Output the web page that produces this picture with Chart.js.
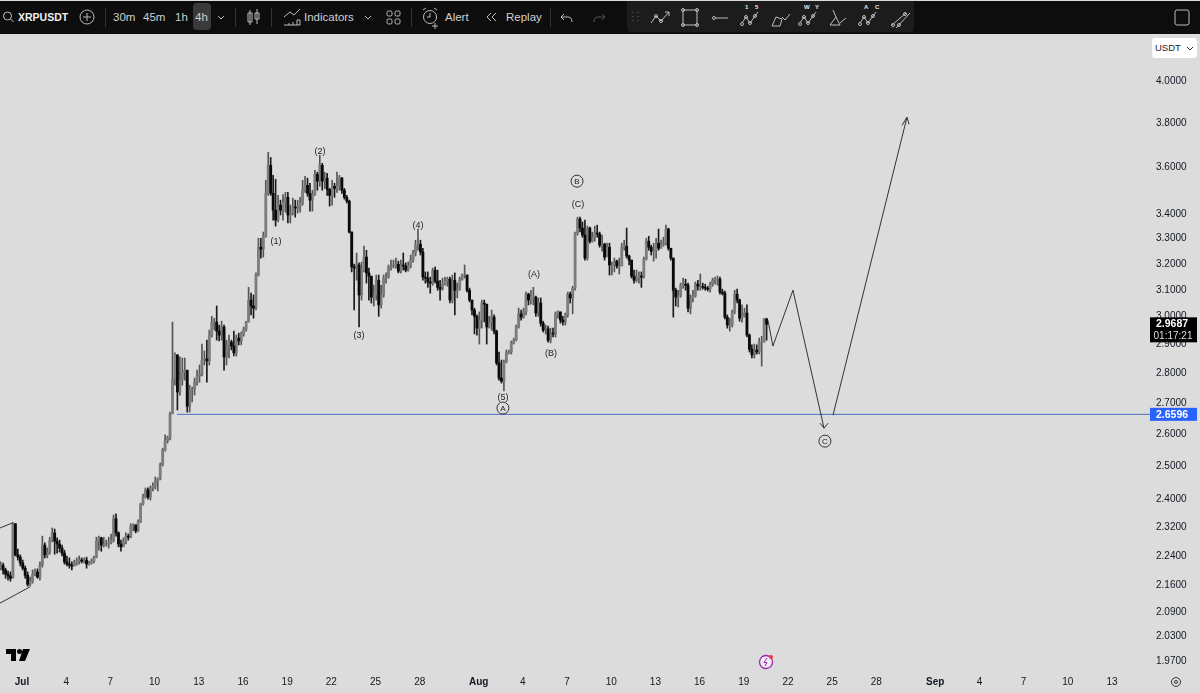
<!DOCTYPE html>
<html><head><meta charset="utf-8"><title>XRPUSDT</title>
<script src="https://cdn.jsdelivr.net/npm/chart.js@4"></script>
<style>
html,body{margin:0;padding:0;background:#dcdcdc;overflow:hidden}
#wrap{position:relative;width:1200px;height:693px;font-family:"Liberation Sans",Arial,sans-serif}
canvas{position:absolute;left:0;top:0}
#bar{position:absolute;left:0;top:1px;width:1200px;height:33px;background:#0d0d0d;color:#cfcfcf;font-size:11.5px}
#bar span{position:absolute;top:10px;white-space:nowrap;line-height:13px}
#bar i{position:absolute;top:7px;width:1px;height:19px;background:#333}
#bar svg{position:absolute;top:0;left:0}
#hi{position:absolute;left:193px;top:2px;width:18px;height:27px;background:#3a3a3a;border-radius:4px}
#panel{position:absolute;left:627px;top:0;width:287px;height:31px;background:#1c1c1c;border-radius:0 0 4px 4px}
#cur{position:absolute;left:1152px;top:38px;width:45px;height:20px;background:#fff;border-radius:3px;font-size:9.5px;line-height:20px;color:#222;padding-left:3px;box-sizing:border-box}
</style></head><body>
<div id="wrap">
<canvas id="c" width="1200" height="693"></canvas>
<div id="bar">
<div id="panel"></div><div id="hi"></div>
<span style="left:18px;font-weight:bold;font-size:10.5px;color:#f0f0f0">XRPUSDT</span>
<span style="left:113px">30m</span><span style="left:143px">45m</span><span style="left:175px">1h</span><span style="left:195px">4h</span>
<span style="left:304px">Indicators</span><span style="left:445px">Alert</span><span style="left:506px">Replay</span>
<i style="left:105px"></i><i style="left:235px"></i><i style="left:271px"></i><i style="left:411px"></i><i style="left:550px"></i>
<svg width="1200" height="33" fill="none" stroke="#bdbdbd" stroke-width="1">
<circle cx="7.5" cy="15" r="4"/><path d="M10.5 18l3 3"/>
<circle cx="87" cy="16" r="7"/><path d="M83 16h8M87 12v8"/>
<path d="M218 15l3 3 3-3M365 15l3 3 3-3"/>
<path d="M250 9v15M248 12h4v9h-4zM257 8v15M255 12h4v6h-4z"/>
<path d="M284 16l6-5 4 3 6-6M284 24h16v-5h-3v5M293 24v-3M289 24v-2"/>
<rect x="387" y="10" width="5" height="5" rx="1.5"/><rect x="395" y="10" width="5" height="5" rx="1.5"/><rect x="387" y="18" width="5" height="5" rx="1.5"/><rect x="395" y="18" width="5" height="5" rx="1.5"/>
<circle cx="430" cy="16" r="6.5"/><path d="M430 12v4h-3M423 9l3-2M437 9l-3-2M435 22v6M432 25h6"/>
<path d="M491 12l-4 4 4 4M496 12l-4 4 4 4"/>
<path d="M564 13l-3 3 3 3M561 16h7c3 0 4 2 4 5"/>
<path stroke="#555" d="M602 13l3 3-3 3M605 16h-7c-3 0-4 2-4 5"/>
<path stroke="#666" stroke-dasharray="1 3" d="M633 11v12M638 11v12"/>
<path d="M651 22l5-7 5 5 8-9M665 11h4v4"/><circle cx="656" cy="15" r="1.5"/><circle cx="661" cy="20" r="1.5"/>
<rect x="683" y="9" width="14" height="15"/><circle cx="683" cy="9" r="1.5"/><circle cx="697" cy="9" r="1.5"/><circle cx="683" cy="24" r="1.5"/><circle cx="697" cy="24" r="1.5"/>
<circle cx="714" cy="17" r="1.5"/><path d="M716 17h12"/>
<path d="M742 22l4-6 4 6 5-7 3-4"/><circle cx="746" cy="16" r="1.5"/><circle cx="750" cy="22" r="1.5"/><circle cx="742" cy="23" r="1.5"/><circle cx="755" cy="15" r="1.5"/>
<path d="M772 25l4-9 6 2-2 7zM782 16l3 3 5-6"/>
<path d="M800 22l4-6 4 6 5-7 3-4"/><circle cx="804" cy="16" r="1.5"/><circle cx="808" cy="22" r="1.5"/><circle cx="800" cy="23" r="1.5"/><circle cx="813" cy="15" r="1.5"/>
<path d="M830 24l6-8-3-7M830 24h10l-4-8M840 22l6-5"/>
<path d="M860 22l4-6 4 6 5-7 3-4"/><circle cx="864" cy="16" r="1.5"/><circle cx="868" cy="22" r="1.5"/><circle cx="860" cy="23" r="1.5"/><circle cx="873" cy="15" r="1.5"/>
<path d="M892 24l14-12M896 27l14-15"/><circle cx="893" cy="24" r="1.5"/><circle cx="905" cy="13" r="1.5"/><circle cx="899" cy="24" r="1.5"/>
<rect x="1175" y="9" width="14" height="15" rx="2"/>
</svg>
<svg width="1200" height="33" fill="#e8e8e8" stroke="none" font-size="6" font-family="Liberation Sans" font-weight="bold"><text x="745" y="8">1</text><text x="755" y="8">5</text><text x="804" y="8">W</text><text x="815" y="8">Y</text><text x="864" y="8">A</text><text x="875" y="8">C</text></svg>
</div>
<div id="cur">USDT<svg width="8" height="6" style="position:absolute;right:3px;top:8px" fill="none" stroke="#333"><path d="M1 1l3 3 3-3"/></svg></div>
<svg width="1200" height="693" style="position:absolute;left:0;top:0;pointer-events:none">
<g fill="#000"><path d="M6 649h10v12h-5v-7H6z"/><circle cx="19.5" cy="651.5" r="2.5"/><path d="M23 649h7l-5 12h-6z"/></g>
<circle cx="766" cy="662" r="6.5" fill="#f3f0f5" stroke="#9c27b0" stroke-width="1.3"/><path d="M767 658l-3 4.5h3l-2 3.5" fill="none" stroke="#9c27b0"/><circle cx="771" cy="657" r="2" fill="#f23645"/>
<g fill="none" stroke="#333"><circle cx="1176" cy="682" r="4.5"/><circle cx="1176" cy="682" r="1.5"/></g>
</svg>
</div>
<script>
const firstOpen = 2.205;
const candleClose = [
2.212,2.199,2.188,2.183,2.177,2.327,2.240,2.234,2.218,2.204,2.185,2.161,2.169,2.188,2.194,2.180,2.212,2.267,2.240,2.248,
2.281,2.301,2.278,2.270,2.259,2.245,2.221,2.215,2.212,2.210,2.218,2.223,2.226,2.223,2.226,2.215,2.218,2.223,2.234,2.278,
2.287,2.267,2.270,2.270,2.273,2.281,2.341,2.301,2.270,2.262,2.278,2.292,2.289,2.321,2.324,2.307,2.332,2.383,2.404,2.425,
2.404,2.431,2.437,2.452,2.458,2.500,2.546,2.575,2.584,2.661,2.776,2.860,2.733,2.773,2.800,2.807,2.686,2.740,2.743,2.766,
2.787,2.793,2.842,2.846,2.839,2.930,2.977,2.977,2.944,2.930,2.959,2.853,2.895,2.905,2.891,2.867,2.919,2.909,2.934,2.952,
2.977,3.058,3.036,3.028,3.153,3.262,3.254,3.306,3.484,3.605,3.484,3.413,3.372,3.434,3.413,3.447,3.467,3.393,3.401,3.426,
3.422,3.430,3.443,3.497,3.518,3.484,3.455,3.479,3.566,3.536,3.605,3.536,3.549,3.501,3.475,3.514,3.505,3.514,3.549,3.497,
3.467,3.451,3.323,3.184,3.180,3.192,3.077,3.172,3.223,3.161,3.149,3.069,3.077,3.133,3.040,3.077,3.141,3.145,3.184,3.188,
3.192,3.195,3.168,3.192,3.188,3.172,3.188,3.211,3.239,3.270,3.274,3.243,3.145,3.141,3.126,3.122,3.172,3.129,3.106,3.099,
3.118,3.129,3.137,3.058,3.133,3.095,3.099,3.137,3.153,3.153,3.095,3.058,3.021,2.998,2.955,2.984,3.047,3.043,2.959,2.977,
2.995,2.944,2.832,2.780,2.770,2.835,2.867,2.870,2.902,2.912,2.959,3.007,2.995,3.014,3.080,3.058,3.069,3.069,3.010,3.047,
2.973,2.948,2.952,2.912,2.937,2.934,3.007,3.014,2.984,2.977,3.003,3.080,3.066,3.103,3.319,3.376,3.339,3.311,3.219,3.339,
3.286,3.302,3.319,3.315,3.270,3.274,3.223,3.262,3.192,3.192,3.207,3.188,3.188,3.262,3.266,3.227,3.211,3.149,3.133,3.145,
3.149,3.145,3.215,3.286,3.262,3.246,3.250,3.278,3.258,3.274,3.278,3.335,3.258,3.219,3.095,3.069,3.077,3.114,3.118,3.114,
3.028,3.066,3.073,3.118,3.110,3.110,3.106,3.103,3.099,3.118,3.133,3.137,3.137,3.088,3.084,2.995,2.966,2.966,3.014,3.080,
3.058,2.991,2.998,3.010,2.930,2.880,2.860,2.877,2.870,2.905,2.905,2.988,2.9687];
const candleHigh = [
2.221,2.218,2.204,2.196,2.194,2.330,2.327,2.256,2.240,2.226,2.210,2.194,2.180,2.199,2.202,2.202,2.221,2.292,2.273,2.259,
2.289,2.315,2.312,2.287,2.281,2.267,2.253,2.237,2.232,2.221,2.226,2.232,2.237,2.232,2.232,2.234,2.223,2.229,2.237,2.289,
2.292,2.289,2.289,2.281,2.289,2.298,2.352,2.355,2.304,2.281,2.287,2.301,2.298,2.327,2.327,2.321,2.338,2.386,2.413,2.431,
2.431,2.437,2.446,2.464,2.461,2.506,2.552,2.594,2.590,2.667,2.977,2.867,2.860,2.853,2.849,2.849,2.807,2.756,2.750,2.780,
2.807,2.825,2.898,2.874,2.912,2.948,2.998,2.991,3.036,2.966,2.980,2.966,2.912,2.930,2.912,2.944,2.930,2.937,2.941,2.959,
2.980,3.106,3.084,3.077,3.161,3.298,3.298,3.323,3.540,3.663,3.640,3.561,3.544,3.475,3.455,3.479,3.488,3.488,3.434,3.463,
3.455,3.455,3.467,3.540,3.557,3.549,3.527,3.497,3.583,3.575,3.650,3.614,3.575,3.570,3.505,3.540,3.527,3.575,3.561,3.553,
3.505,3.475,3.455,3.323,3.195,3.239,3.200,3.203,3.266,3.250,3.180,3.145,3.114,3.153,3.153,3.114,3.153,3.161,3.192,3.211,
3.211,3.219,3.207,3.211,3.239,3.200,3.203,3.231,3.250,3.290,3.335,3.290,3.258,3.165,3.165,3.145,3.180,3.184,3.172,3.133,
3.141,3.145,3.145,3.145,3.153,3.161,3.122,3.145,3.157,3.192,3.153,3.103,3.058,3.028,3.003,3.014,3.058,3.058,3.021,2.998,
3.021,3.003,2.948,2.870,2.842,2.842,2.877,2.877,2.909,2.919,2.966,3.028,3.021,3.028,3.088,3.084,3.095,3.106,3.073,3.066,
3.066,2.980,2.966,2.962,2.955,2.955,3.014,3.018,3.014,2.998,3.010,3.088,3.088,3.110,3.323,3.384,3.384,3.364,3.372,3.347,
3.343,3.323,3.347,3.351,3.323,3.311,3.278,3.278,3.278,3.203,3.219,3.211,3.219,3.278,3.290,3.339,3.231,3.211,3.172,3.172,
3.165,3.165,3.223,3.298,3.306,3.270,3.278,3.298,3.335,3.290,3.302,3.351,3.339,3.258,3.219,3.103,3.095,3.122,3.141,3.137,
3.122,3.077,3.095,3.126,3.133,3.157,3.122,3.118,3.110,3.126,3.141,3.145,3.149,3.145,3.099,3.092,3.003,2.991,3.021,3.095,
3.099,3.062,3.040,3.028,3.040,2.934,2.895,2.898,2.895,2.919,2.926,2.991,2.991];
const candleLow = [
2.199,2.188,2.177,2.172,2.169,2.188,2.237,2.226,2.210,2.199,2.177,2.156,2.156,2.164,2.183,2.177,2.172,2.207,2.232,2.232,
2.242,2.276,2.242,2.245,2.248,2.237,2.215,2.210,2.204,2.199,2.210,2.212,2.215,2.218,2.218,2.204,2.212,2.215,2.218,2.232,
2.253,2.250,2.262,2.264,2.259,2.270,2.276,2.292,2.262,2.250,2.264,2.270,2.281,2.287,2.307,2.301,2.304,2.330,2.380,2.401,
2.398,2.395,2.422,2.428,2.422,2.455,2.497,2.543,2.568,2.578,2.664,2.756,2.674,2.723,2.756,2.773,2.667,2.667,2.700,2.723,
2.756,2.766,2.787,2.825,2.766,2.825,2.923,2.948,2.912,2.909,2.912,2.807,2.825,2.849,2.877,2.856,2.856,2.895,2.895,2.926,
2.944,2.977,3.003,2.991,3.021,3.149,3.219,3.223,3.302,3.475,3.475,3.372,3.347,3.364,3.393,3.372,3.405,3.360,3.360,3.393,
3.384,3.401,3.405,3.434,3.488,3.471,3.409,3.409,3.475,3.497,3.514,3.497,3.505,3.475,3.430,3.434,3.467,3.488,3.497,3.484,
3.459,3.443,3.319,3.165,3.021,3.133,2.959,3.058,3.165,3.122,3.058,3.047,3.036,3.058,2.998,3.028,3.069,3.122,3.141,3.172,
3.180,3.180,3.161,3.161,3.172,3.165,3.168,3.180,3.203,3.227,3.250,3.231,3.133,3.122,3.106,3.084,3.114,3.122,3.095,3.058,
3.095,3.114,3.110,3.047,3.047,3.003,3.066,3.095,3.133,3.141,3.088,3.051,3.003,2.934,2.930,2.898,2.955,2.977,2.898,2.955,
2.948,2.934,2.825,2.773,2.763,2.737,2.832,2.863,2.863,2.898,2.909,2.955,2.984,2.991,3.003,3.040,3.043,3.040,2.998,2.998,
2.962,2.941,2.934,2.905,2.902,2.923,2.923,2.991,2.973,2.966,2.966,2.995,3.047,3.007,3.095,3.311,3.323,3.302,3.211,3.211,
3.278,3.282,3.286,3.302,3.262,3.246,3.211,3.243,3.153,3.153,3.165,3.180,3.157,3.203,3.250,3.219,3.192,3.141,3.122,3.126,
3.122,3.106,3.141,3.211,3.250,3.231,3.207,3.219,3.250,3.258,3.266,3.270,3.250,3.211,2.995,3.036,3.032,3.069,3.103,3.095,
3.014,3.007,3.051,3.069,3.095,3.095,3.099,3.095,3.092,3.088,3.110,3.118,3.114,3.080,3.077,2.988,2.955,2.944,2.959,3.007,
3.047,2.980,2.977,2.995,2.923,2.870,2.849,2.849,2.863,2.863,2.821,2.905,2.912];
const candleStartDay = -1.45;
const candlesPerDay = 6;
const priceTicks = [4.0,3.8,3.6,3.4,3.3,3.2,3.1,3.0,2.9,2.8,2.7,2.6,2.5,2.4,2.32,2.24,2.16,2.09,2.03,1.97];
const axisStartDay = -1.494;
const dayTicks = [0,3,6,9,12,15,18,21,24,27,31,34,37,40,43,46,49,52,55,58,62,65,68,71,74];
const dayTickLabels = ['Jul','4','7','10','13','16','19','22','25','28','Aug','4','7','10','13','16','19','22','25','28','Sep','4','7','10','13'];
const supportLevel = 2.6596, lastPrice = 2.9687, countdown = '01:17:21';
const pathDays = [50.64,50.98,52.34,54.45], pathPrices = [2.984,2.891,3.095,2.615];
const arrowDownDays = [54.18,54.45,54.72], arrowDownPrices = [2.631,2.615,2.631];
const rallyDays = [55.06,60.08], rallyPrices = [2.657,3.823];
const arrowUpDays = [59.74,60.08,60.22], arrowUpPrices = [3.785,3.823,3.79];
const channelTopDays = [-1.49,-0.61], channelTopPrices = [2.315,2.33];
const channelBottomDays = [-1.49,0.54], channelBottomPrices = [2.112,2.154];
const waveLabels = ['(1)','(2)','(3)','(4)','(5)','(A)','(B)','(C)'];
const waveDays = [17.24,20.23,22.88,26.88,32.65,34.76,35.91,37.75];
const wavePrices = [3.286,3.667,2.930,3.351,2.716,3.157,2.867,3.438];
const circleLabels = ['A','B','C'];
const circleDays = [32.65,37.68,54.51];
const circlePrices = [2.680,3.536,2.574];

const candleOpen = candleClose.map((c,i)=> i ? candleClose[i-1] : firstOpen);
const dayOf = i => candleStartDay + i/candlesPerDay;
const upBody=[],downBody=[],upWick=[],downWick=[];
candleClose.forEach((c,i)=>{
  const o=candleOpen[i], x=dayOf(i);
  if(c>=o){upBody.push({x,y:[o===c?o*0.9995:o,c]});upWick.push({x,y:[candleLow[i],candleHigh[i]]});}
  else{downBody.push({x,y:[o,c]});downWick.push({x,y:[candleLow[i],candleHigh[i]]});}
});
const pts=(xs,ys)=>xs.map((x,i)=>({x,y:ys[i]}));
const line=(data,color,order,w)=>({type:'line',data,borderColor:color,borderWidth:w||1,pointRadius:0,tension:0,fill:false,order});
const bar=(data,color,th,order)=>({type:'bar',data,backgroundColor:color,barThickness:th,order,grouped:false});

const labelPlugin={id:'labels',afterDraw(ch){
  const {ctx,scales:{x,y}}=ch;
  ctx.save();ctx.textAlign='center';ctx.textBaseline='middle';
  ctx.fillStyle='#222';ctx.font='9px "Liberation Sans"';
  waveLabels.forEach((t,i)=>ctx.fillText(t,x.getPixelForValue(waveDays[i]),y.getPixelForValue(wavePrices[i])+0.5));
  ctx.font='8px "Liberation Sans"';
  circleLabels.forEach((t,i)=>ctx.fillText(t,x.getPixelForValue(circleDays[i]),y.getPixelForValue(circlePrices[i])+0.5));
  const L=1150,W=47;
  const yl=y.getPixelForValue(lastPrice);
  ctx.fillStyle='#000';ctx.fillRect(L,yl-7,W,25);
  ctx.fillStyle='#fff';ctx.font='bold 10.5px "Liberation Sans"';ctx.fillText(lastPrice.toFixed(4),L+22,yl-0.5);
  ctx.fillStyle='#ddd';ctx.font='10px "Liberation Sans"';ctx.fillText(countdown,L+23,yl+11.5);
  const ys=y.getPixelForValue(supportLevel);
  ctx.fillStyle='#2962ff';ctx.fillRect(L,ys-6.5,W,13);
  ctx.fillStyle='#fff';ctx.font='bold 10.5px "Liberation Sans"';ctx.fillText(supportLevel.toFixed(4),L+22,ys+0.5);
  ctx.restore();
}};

new Chart(document.getElementById('c'),{
  type:'bar',
  data:{datasets:[
    {type:'line',data:pts(circleDays,circlePrices),showLine:false,pointRadius:6,pointBorderWidth:1,pointBorderColor:'#333',pointBackgroundColor:'rgba(0,0,0,0)',order:0},
    line(pts(pathDays,pathPrices),'#333',1),
    line(pts(arrowDownDays,arrowDownPrices),'#333',1),
    line(pts(rallyDays,rallyPrices),'#333',1),
    line(pts(arrowUpDays,arrowUpPrices),'#333',1),
    line(pts(channelTopDays,channelTopPrices),'#333',1),
    line(pts(channelBottomDays,channelBottomPrices),'#333',1),
    line(pts([10.52,76.6],[supportLevel,supportLevel]),'#4a6fc0',2),
    bar(downBody,'#0a0a0a',2.2,3),
    bar(upBody,'#7d7d7d',2.2,4),
    bar(downWick,'#1a1a1a',1,5),
    bar(upWick,'#555',1,6)
  ]},
  plugins:[labelPlugin,{id:'bg',beforeDraw(ch){const c=ch.ctx;c.save();c.fillStyle='#dcdcdc';c.fillRect(0,0,1200,693);c.restore();}}],
  options:{
    responsive:false,animation:false,devicePixelRatio:1,
    layout:{autoPadding:false,padding:{top:35,left:0,right:0,bottom:0}},
    plugins:{legend:{display:false},tooltip:{enabled:false}},
    datasets:{bar:{grouped:false}},
    scales:{
      x:{type:'linear',offset:false,min:axisStartDay,max:76.58,
        grid:{display:false,drawTicks:true,tickLength:4},border:{display:false},
        afterBuildTicks(a){a.ticks=dayTicks.map(value=>({value}));},
        afterFit(a){a.height=21;},
        ticks:{autoSkip:false,maxRotation:0,padding:0,color:'#131722',
          font:c=>({family:'Liberation Sans',size:10,weight:[0,31,62].includes(c.tick&&c.tick.value)?'bold':'normal'}),
          callback:(v,i)=>dayTickLabels[i]}},
      y:{type:'logarithmic',position:'right',min:1.9415,max:4.2272,
        grid:{display:false,drawTicks:false},border:{display:false},
        afterBuildTicks(a){a.ticks=priceTicks.map(value=>({value}));},
        afterFit(a){a.width=50;},
        ticks:{autoSkip:false,padding:6,labelOffset:1,color:'#131722',font:{family:'Liberation Sans',size:10},
          callback:v=>Number(v).toFixed(4)}}
    },
    elements:{line:{borderJoinStyle:'miter'}}
  }
});
</script>
</body></html>
